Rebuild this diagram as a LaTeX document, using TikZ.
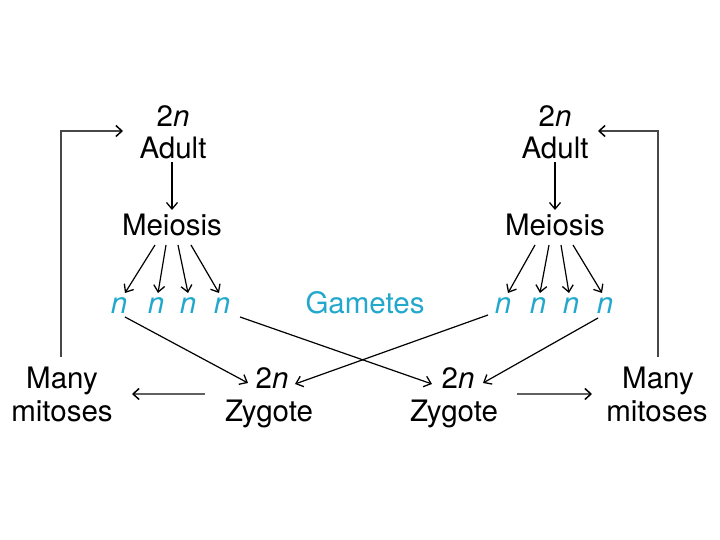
\documentclass[tikz,border=0pt]{standalone}
\usepackage{fontspec}
\setmainfont{TeX Gyre Heros}
\usetikzlibrary{arrows.meta}
\definecolor{gamcyan}{RGB}{34,168,204}
\tikzset{
  lbl/.style={anchor=base,inner sep=0pt,font=\fontsize{29.5}{32}\selectfont},
  gam/.style={lbl,text=gamcyan},
  arr/.style={line width=1.2pt,-{Straight Barb[length=6.5pt,width=11pt,line width=1.3pt]}},
  garr/.style={line width=2.2pt,draw=black!62,-{Straight Barb[length=6pt,width=11pt,line width=1.5pt,color=black]}},
  loop/.style={line width=2.2pt,draw=black!72,-{Straight Barb[length=6pt,width=11pt,line width=1.5pt,color=black]}}
}
\begin{document}
\begin{tikzpicture}[x=1pt,y=1pt]
\useasboundingbox (0,0) rectangle (720,540);
\fill[white] (0,0) rectangle (720,540);
% left side
\node[lbl] (a2nL) at (173,413) {2\textit{n}};
\node[lbl] (adultL) at (173,381) {Adult};
\node[lbl] (meioL) at (172,304) {Meiosis};
\node[gam] (nL1) at (119,226) {\textit{n}};
\node[gam] (nL2) at (156,226) {\textit{n}};
\node[gam] (nL3) at (188,226) {\textit{n}};
\node[gam] (nL4) at (222,226) {\textit{n}};
\node[gam] (gam) at (365,226) {Gametes};
% right side
\node[lbl] (a2nR) at (555,413) {2\textit{n}};
\node[lbl] (adultR) at (555,381) {Adult};
\node[lbl] (meioR) at (555,304) {Meiosis};
\node[gam] (nR1) at (503,226) {\textit{n}};
\node[gam] (nR2) at (538,226) {\textit{n}};
\node[gam] (nR3) at (571,226) {\textit{n}};
\node[gam] (nR4) at (605,226) {\textit{n}};
% zygotes
\node[lbl] (z2nL) at (272,151) {2\textit{n}};
\node[lbl] (zygL) at (269,118) {Zygote};
\node[lbl] (z2nR) at (458,151) {2\textit{n}};
\node[lbl] (zygR) at (454,118) {Zygote};
% many mitoses
\node[lbl] (manyL) at (62,151) {Many};
\node[lbl] (mitL) at (62,118) {mitoses};
\node[lbl] (manyR) at (658,151) {Many};
\node[lbl] (mitR) at (657,118) {mitoses};
% adult -> meiosis
\draw[arr] ([shift={(-1,-3)}]adultL.base) -- ([shift={(0,26)}]meioL.base);
\draw[arr] ([shift={(0,-3)}]adultR.base) -- ([shift={(0,26)}]meioR.base);
% meiosis -> gametes (left)
\draw[arr] ([shift={(-17,-9)}]meioL.base) -- ([shift={(6,21)}]nL1.base);
\draw[arr] ([shift={(-6,-9)}]meioL.base) -- ([shift={(2,21)}]nL2.base);
\draw[arr] ([shift={(6,-9)}]meioL.base) -- ([shift={(0,21)}]nL3.base);
\draw[arr] ([shift={(19,-9)}]meioL.base) -- ([shift={(-3,21)}]nL4.base);
% meiosis -> gametes (right)
\draw[arr] ([shift={(-20,-9)}]meioR.base) -- ([shift={(5,21)}]nR1.base);
\draw[arr] ([shift={(-6,-9)}]meioR.base) -- ([shift={(2,21)}]nR2.base);
\draw[arr] ([shift={(6,-9)}]meioR.base) -- ([shift={(-2,21)}]nR3.base);
\draw[arr] ([shift={(18,-9)}]meioR.base) -- ([shift={(-3,21)}]nR4.base);
% gametes -> zygotes
\draw[arr] ([shift={(6,-3)}]nL1.base) -- ([shift={(-24,6)}]z2nL.base);
\draw[arr] ([shift={(18,-3)}]nL4.base) -- ([shift={(-26,5)}]z2nR.base);
\draw[arr] ([shift={(-15,-1)}]nR1.base) -- ([shift={(23,5)}]z2nL.base);
\draw[arr] ([shift={(-7,-4)}]nR4.base) -- ([shift={(25,6)}]z2nR.base);
% zygote -> many mitoses
\draw[garr] ([shift={(-67,-5)}]z2nL.base) -- ([shift={(70,-5)}]manyL.base);
\draw[garr] ([shift={(59,-5)}]z2nR.base) -- ([shift={(-66,-5)}]manyR.base);
% loops back to adult
\draw[loop] ([shift={(-1,32)}]manyL.base) |- ([shift={(-50,-4)}]a2nL.base);
\draw[loop] ([shift={(0,32)}]manyR.base) |- ([shift={(43,-4)}]a2nR.base);
\end{tikzpicture}
\end{document}
